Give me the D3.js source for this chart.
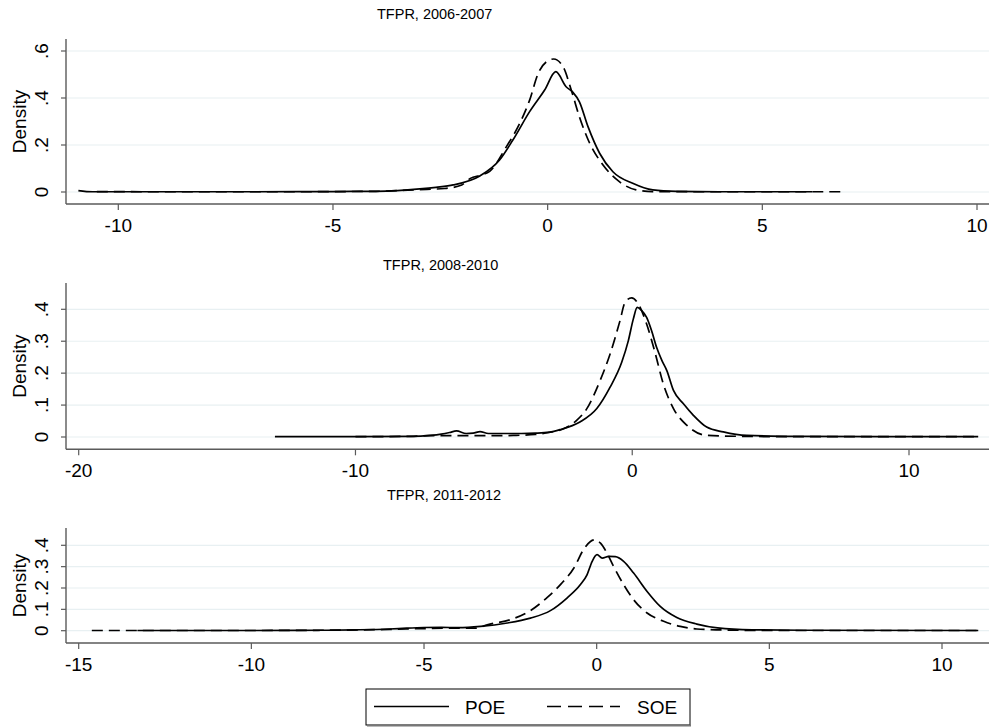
<!DOCTYPE html>
<html><head><meta charset="utf-8">
<script src="https://cdn.jsdelivr.net/npm/d3@7"></script>
<style>body{margin:0;background:#fff}svg{display:block}text{font-family:"Liberation Sans",Arial,sans-serif;fill:#000}</style>
</head><body><svg id="c" width="989" height="727"></svg>
<script>
// ---- data ----
const titles = ["TFPR, 2006-2007", "TFPR, 2008-2010", "TFPR, 2011-2012"];
const xTicks1 = [-10, -5, 0, 5, 10];
const xTicks2 = [-20, -10, 0, 10];
const xTicks3 = [-15, -10, -5, 0, 5, 10];
const yTicks1 = [0, 0.2, 0.4, 0.6];
const yTicks2 = [0, 0.1, 0.2, 0.3, 0.4];
const yTicks3 = [0, 0.1, 0.2, 0.3, 0.4];
const seriesNames = ["POE", "SOE"];

const poe1 = [[-10.93,0.006],[-10.6,0.001],[-9,0.001],[-7,0.001],[-5,0.002],[-4,0.003],[-3.5,0.006],[-2.98,0.013],[-2.6,0.02],[-2.2,0.03],[-1.58,0.068],[-1.12,0.136],[-0.81,0.221],[-0.42,0.342],[-0.07,0.434],[0.19,0.512],[0.43,0.448],[0.59,0.424],[0.74,0.384],[0.94,0.278],[1.21,0.165],[1.52,0.086],[1.98,0.037],[2.45,0.009],[3,0.003],[4,0.001],[6.16,0.001]];
const soe1 = [[-10.5,0.002],[-9,0.001],[-6,0.001],[-4,0.003],[-3,0.01],[-2.4,0.015],[-2.0,0.03],[-1.8,0.058],[-1.55,0.072],[-1.35,0.088],[-0.96,0.193],[-0.65,0.292],[-0.42,0.391],[-0.22,0.505],[-0.03,0.554],[0.14,0.566],[0.36,0.533],[0.55,0.434],[0.74,0.32],[0.98,0.207],[1.29,0.115],[1.67,0.044],[2.06,0.009],[2.44,0.002],[4,0.001],[6.9,0.001]];
const poe2 = [[-12.91,0.001],[-10,0.001],[-8,0.002],[-7.3,0.005],[-6.9,0.009],[-6.6,0.014],[-6.35,0.019],[-6.0,0.011],[-5.75,0.012],[-5.5,0.017],[-5.2,0.011],[-4.5,0.011],[-4.0,0.011],[-3.5,0.012],[-3.0,0.015],[-2.61,0.023],[-1.89,0.047],[-1.28,0.089],[-0.80,0.156],[-0.38,0.234],[-0.14,0.302],[0.04,0.37],[0.18,0.406],[0.34,0.396],[0.52,0.375],[0.70,0.333],[0.88,0.281],[1.07,0.24],[1.25,0.208],[1.49,0.146],[1.85,0.104],[2.21,0.068],[2.69,0.031],[3.29,0.016],[4.14,0.005],[6,0.002],[9,0.001],[12.5,0.001]];
const soe2 = [[-10,0.001],[-8,0.002],[-7.3,0.004],[-6,0.004],[-5,0.004],[-4.3,0.005],[-3.5,0.008],[-3.0,0.014],[-2.5,0.025],[-2.01,0.052],[-1.64,0.089],[-1.16,0.177],[-0.80,0.26],[-0.44,0.365],[-0.26,0.422],[-0.02,0.436],[0.22,0.417],[0.52,0.354],[0.82,0.266],[1.12,0.167],[1.49,0.089],[1.97,0.037],[2.69,0.005],[4,0.002],[6,0.001],[12.5,0.001]];
const poe3 = [[-13.3,0.001],[-10,0.001],[-8,0.002],[-7,0.004],[-6,0.008],[-5.5,0.012],[-5,0.015],[-4.5,0.016],[-4,0.014],[-3.36,0.02],[-2.59,0.036],[-1.92,0.059],[-1.34,0.094],[-0.86,0.153],[-0.47,0.216],[-0.28,0.262],[-0.13,0.325],[0.01,0.356],[0.16,0.34],[0.35,0.348],[0.54,0.347],[0.78,0.325],[1.07,0.27],[1.46,0.184],[1.84,0.114],[2.32,0.062],[2.9,0.031],[3.5,0.013],[4.5,0.004],[6,0.002],[11.05,0.001]];
const soe3 = [[-14.62,0.001],[-12,0.001],[-10,0.001],[-8,0.002],[-6,0.006],[-5,0.01],[-4.2,0.012],[-3.5,0.012],[-3.17,0.028],[-2.49,0.052],[-1.92,0.094],[-1.43,0.156],[-1.05,0.216],[-0.66,0.294],[-0.38,0.38],[-0.18,0.418],[-0.04,0.426],[0.11,0.41],[0.3,0.363],[0.49,0.301],[0.78,0.216],[1.07,0.145],[1.46,0.083],[1.94,0.044],[2.42,0.02],[2.9,0.008],[3.5,0.004],[5,0.001],[11.05,0.001]];

// ---- layout ----
const svg = d3.select("#c");
const W = 989;
const axisX = 66;
const panels = [
  {title: titles[0], tx: 377, ty: 18.5, xd: [-10, 10], xr: [118.3, 977], yd: [0, 0.6], yr: [192, 51], top: 39, bottom: 204, xt: xTicks1, yt: yTicks1, poe: poe1, soe: soe1, lblY: 231.5},
  {title: titles[1], tx: 383, ty: 269.5, xd: [-20, 10], xr: [78.7, 909], yd: [0, 0.4], yr: [437, 309.3], top: 283, bottom: 449.3, xt: xTicks2, yt: yTicks2, poe: poe2, soe: soe2, lblY: 477},
  {title: titles[2], tx: 387, ty: 499.5, xd: [-15, 10], xr: [78.7, 942], yd: [0, 0.4], yr: [630.7, 545.3], top: 528, bottom: 643, xt: xTicks3, yt: yTicks3, poe: poe3, soe: soe3, lblY: 670.5}
];
const axisCol = "#5a5a5a";
const fmtY = v => v === 0 ? "0" : d3.format(".1f")(v).replace(/^0/, "");

panels.forEach(p => {
  const x = d3.scaleLinear().domain(p.xd).range(p.xr);
  const y = d3.scaleLinear().domain(p.yd).range(p.yr);
  const g = svg.append("g");

  // grid
  g.selectAll("line.grid").data(p.yt).join("line")
    .attr("x1", axisX + 1).attr("x2", W).attr("y1", d => y(d)).attr("y2", d => y(d))
    .attr("stroke", "#e8f0f2").attr("stroke-width", 1.2);

  // title
  g.append("text").attr("x", p.tx).attr("y", p.ty).attr("font-size", 14.5).text(p.title);

  // y axis
  g.append("line").attr("x1", axisX).attr("x2", axisX).attr("y1", p.top).attr("y2", p.bottom)
    .attr("stroke", axisCol).attr("stroke-width", 1.4);
  g.selectAll("line.yt").data(p.yt).join("line")
    .attr("x1", axisX - 5).attr("x2", axisX).attr("y1", d => y(d)).attr("y2", d => y(d))
    .attr("stroke", axisCol).attr("stroke-width", 1.2);
  g.selectAll("text.yl").data(p.yt).join("text")
    .attr("transform", d => `translate(48,${y(d)}) rotate(-90)`)
    .attr("text-anchor", "middle").attr("font-size", 19).text(fmtY);
  g.append("text").attr("transform", `translate(26,${(p.top + p.bottom) / 2}) rotate(-90)`)
    .attr("text-anchor", "middle").attr("font-size", 19).text("Density");

  // x axis
  g.append("line").attr("x1", axisX).attr("x2", W).attr("y1", p.bottom).attr("y2", p.bottom)
    .attr("stroke", axisCol).attr("stroke-width", 1.4);
  g.selectAll("line.xt").data(p.xt).join("line")
    .attr("x1", d => x(d)).attr("x2", d => x(d)).attr("y1", p.bottom).attr("y2", p.bottom + 6)
    .attr("stroke", axisCol).attr("stroke-width", 1.2);
  g.selectAll("text.xl").data(p.xt).join("text")
    .attr("x", d => x(d)).attr("y", p.lblY).attr("text-anchor", "middle").attr("font-size", 19)
    .text(d => d < 0 ? "-" + Math.abs(d) : String(d));

  // curves
  const line = d3.line().x(d => x(d[0])).y(d => y(d[1])).curve(d3.curveMonotoneX);
  g.append("path").attr("d", line(p.soe)).attr("fill", "none").attr("stroke", "#000")
    .attr("stroke-width", 1.7).attr("stroke-dasharray", "11,6");
  g.append("path").attr("d", line(p.poe)).attr("fill", "none").attr("stroke", "#000")
    .attr("stroke-width", 1.7);
});

// legend
const lg = svg.append("g");
lg.append("rect").attr("x", 366).attr("y", 689).attr("width", 324).attr("height", 36)
  .attr("fill", "#fff").attr("stroke", "#000").attr("stroke-width", 1);
lg.append("line").attr("x1", 367).attr("x2", 691).attr("y1", 725.5).attr("y2", 725.5)
  .attr("stroke", "#777").attr("stroke-width", 2);
lg.append("line").attr("x1", 374).attr("x2", 449).attr("y1", 706.5).attr("y2", 706.5)
  .attr("stroke", "#000").attr("stroke-width", 1.4);
lg.append("text").attr("x", 465).attr("y", 713.5).attr("font-size", 19).text(seriesNames[0]);
lg.append("line").attr("x1", 547).attr("x2", 620).attr("y1", 706.5).attr("y2", 706.5)
  .attr("stroke", "#000").attr("stroke-width", 1.4).attr("stroke-dasharray", "14,7");
lg.append("text").attr("x", 637).attr("y", 713.5).attr("font-size", 19).text(seriesNames[1]);
</script></body></html>
